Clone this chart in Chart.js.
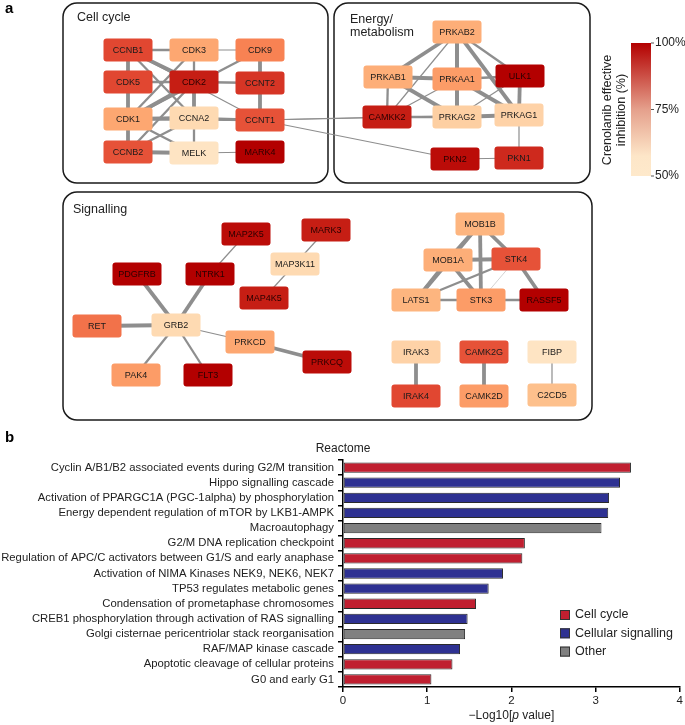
<!DOCTYPE html>
<html>
<head>
<meta charset="utf-8">
<script src="https://cdn.jsdelivr.net/npm/chart.js@4.4.1/dist/chart.umd.min.js"></script>
<style>
  html, body { margin: 0; padding: 0; background: #fff; }
  #wrap { position: relative; width: 685px; height: 725px; }
  canvas { position: absolute; left: 0; top: 0; }
</style>
</head>
<body>
<div id="wrap">
  <canvas id="net" width="685" height="455"></canvas>
  <canvas id="bars" width="685" height="725"></canvas>
</div>
<script>
// ---- panel a : kinase network (inhibition %, estimated from node colour)
const geneNames = ['CCNB1','CDK3','CDK9','CDK5','CDK2','CCNT2','CDK1','CCNA2','CCNT1','CCNB2','MELK','MARK4',
  'PRKAB2','PRKAB1','PRKAA1','ULK1','CAMKK2','PRKAG2','PRKAG1','PKN2','PKN1',
  'MAP2K5','MARK3','PDGFRB','NTRK1','MAP3K11','MAP4K5','RET','GRB2','PRKCD','PRKCQ','PAK4','FLT3',
  'MOB1B','MOB1A','STK4','LATS1','STK3','RASSF5','IRAK3','CAMK2G','FIBP','IRAK4','CAMK2D','C2CD5'];
const inhibition = [88,68,77,88,95,91,68,54,86,86,51,100,
  66,66,71,100,95,57,56,98,93,
  98,95,100,100,54,95,80,54,68,98,71,100,
  64,66,86,64,71,100,56,86,51,88,71,61];
// interactions: [gene, gene, score]
const interactions = [
  ['CCNB1','CDK1',3],['CCNB1','CDK2',3],['CCNB1','CDK3',2],['CCNB1','CCNB2',1],['CCNB1','CCNA2',2],
  ['CDK5','CDK1',2],['CDK5','CDK2',2],['CDK5','CCNB2',1],['CDK2','CCNA2',3],['CDK1','CCNA2',3],
  ['CDK1','CCNB2',3],['CDK1','CDK2',3],['CDK9','CCNT2',3],['CDK9','CCNT1',2],['CCNT2','CCNT1',3],
  ['CDK9','CDK1',2],['CDK2','CCNB2',2],['CCNA2','CCNB2',2],['CCNA2','MELK',2],['CDK1','MELK',2],
  ['CCNB2','MELK',3],['CCNT1','CDK1',2],['CCNT1','CCNA2',2],['CDK3','CDK1',2],['CDK3','CCNA2',2],
  ['CDK2','CCNT2',2],['CDK3','CDK9',1],['CCNB1','CCNT1',1],['MELK','MARK4',1],
  ['CCNT1','CAMKK2',1],['CCNT1','PRKAG1',1],['CCNT1','PKN2',1],
  ['PRKAB2','PRKAB1',3],['PRKAB2','PRKAA1',3],['PRKAB2','PRKAG2',3],['PRKAB2','PRKAG1',3],
  ['PRKAB2','CAMKK2',1],['PRKAB2','ULK1',2],['PRKAB1','PRKAA1',3],['PRKAB1','PRKAG2',3],
  ['PRKAB1','CAMKK2',2],['PRKAA1','ULK1',2],['PRKAA1','PRKAG2',3],['PRKAA1','PRKAG1',3],
  ['PRKAA1','CAMKK2',1],['ULK1','PRKAG1',3],['ULK1','PRKAG2',1],['CAMKK2','PRKAG2',2],
  ['PRKAG2','PRKAG1',3],['CAMKK2','PRKAG1',1],['PRKAG1','PKN1',1],['PKN2','PKN1',1],
  ['GRB2','PDGFRB',3],['GRB2','NTRK1',3],['GRB2','RET',3],['GRB2','PAK4',2],['GRB2','FLT3',2],
  ['GRB2','PRKCD',1],['PRKCD','PRKCQ',3],['NTRK1','MAP2K5',1],['MAP3K11','MARK3',1],['MAP3K11','MAP4K5',1],
  ['MOB1B','MOB1A',3],['MOB1B','STK4',3],['MOB1B','STK3',3],['MOB1B','LATS1',3],['MOB1A','STK4',3],
  ['MOB1A','LATS1',3],['MOB1A','STK3',3],['STK4','LATS1',2],['STK4','RASSF5',3],['STK4','STK3',0],
  ['LATS1','STK3',2],['STK3','RASSF5',2],['IRAK3','IRAK4',3],['CAMK2G','CAMK2D',3],['FIBP','C2CD5',1]
];
const groupTitles = ['Cell cycle', 'Energy/\nmetabolism', 'Signalling'];
const colorbarTicks = ['100%', '75%', '50%'];

// ---- panel b : Reactome enrichment
const pathways = [
  'Cyclin A/B1/B2 associated events during G2/M transition',
  'Hippo signalling cascade',
  'Activation of PPARGC1A (PGC-1alpha) by phosphorylation',
  'Energy dependent regulation of mTOR by LKB1-AMPK',
  'Macroautophagy',
  'G2/M DNA replication checkpoint',
  'Regulation of APC/C activators between G1/S and early anaphase',
  'Activation of NIMA Kinases NEK9, NEK6, NEK7',
  'TP53 regulates metabolic genes',
  'Condensation of prometaphase chromosomes',
  'CREB1 phosphorylation through activation of RAS signalling',
  'Golgi cisternae pericentriolar stack reorganisation',
  'RAF/MAP kinase cascade',
  'Apoptotic cleavage of cellular proteins',
  'G0 and early G1'
];
const negLogP = [3.42, 3.29, 3.16, 3.15, 3.07, 2.16, 2.13, 1.90, 1.73, 1.58, 1.48, 1.45, 1.39, 1.30, 1.05];
const pathwayGroup = ['Cell cycle','Cellular signalling','Cellular signalling','Cellular signalling','Other',
  'Cell cycle','Cell cycle','Cellular signalling','Cellular signalling','Cell cycle',
  'Cellular signalling','Other','Cellular signalling','Cell cycle','Cell cycle'];
const groupNames = ['Cell cycle', 'Cellular signalling', 'Other'];

// ---------------------------------------------------------------- layout / styles
Chart.defaults.font.family = '"Liberation Sans", Arial, sans-serif';
Chart.defaults.color = '#222';

const layout = {
  CCNB1:[128,50], CDK3:[194,50], CDK9:[260,50],
  CDK5:[128,82], CDK2:[194,82], CCNT2:[260,83],
  CDK1:[128,119], CCNA2:[194,118], CCNT1:[260,120],
  CCNB2:[128,152], MELK:[194,153], MARK4:[260,152],
  PRKAB2:[457,32], PRKAB1:[388,77], PRKAA1:[457,79], ULK1:[520,76],
  CAMKK2:[387,117], PRKAG2:[457,117], PRKAG1:[519,115], PKN2:[455,159], PKN1:[519,158],
  MAP2K5:[246,234], MARK3:[326,230], PDGFRB:[137,274], NTRK1:[210,274], MAP3K11:[295,264],
  MAP4K5:[264,298], RET:[97,326], GRB2:[176,325], PRKCD:[250,342], PRKCQ:[327,362],
  PAK4:[136,375], FLT3:[208,375],
  MOB1B:[480,224], MOB1A:[448,260], STK4:[516,259], LATS1:[416,300], STK3:[481,300], RASSF5:[544,300],
  IRAK3:[416,352], CAMK2G:[484,352], FIBP:[552,352], IRAK4:[416,396], CAMK2D:[484,396], C2CD5:[552,395]
};
const groupBoxes = [[63,3,328,183],[334,3,590,183],[63,192,592,420]];
const groupTitlePos = [[77,18],[350,20],[73,210]];

function mix(a, b, t) {
  const pa = [1,3,5].map(i => parseInt(a.substr(i,2),16));
  const pb = [1,3,5].map(i => parseInt(b.substr(i,2),16));
  return 'rgb(' + pa.map((v,i) => Math.round(v + (pb[i]-v)*t)).join(',') + ')';
}
const ramp = ['#fee8c8','#fdbb84','#fc8d59','#e34a33','#b30000'];
function inhibColor(v) {
  let t = Math.max(0, Math.min(1, (v - 50) / 50)) * (ramp.length - 1);
  const i = Math.min(ramp.length - 2, Math.floor(t));
  return mix(ramp[i], ramp[i+1], t - i);
}
const edgeWidth = [0.6, 1.2, 2.3, 3.8];

function rrect(ctx, x, y, w, h, r) {
  ctx.beginPath();
  ctx.moveTo(x + r, y);
  ctx.arcTo(x + w, y, x + w, y + h, r);
  ctx.arcTo(x + w, y + h, x, y + h, r);
  ctx.arcTo(x, y + h, x, y, r);
  ctx.arcTo(x, y, x + w, y, r);
  ctx.closePath();
}

const edgeSets = interactions.map(([a, b, s]) => ({
  data: [{x: layout[a][0], y: layout[a][1]}, {x: layout[b][0], y: layout[b][1]}],
  showLine: true, pointRadius: 0, borderColor: s === 0 ? '#b5b5b5' : '#8e8e8e',
  borderWidth: edgeWidth[s], clip: false
}));
const nodeSet = {
  data: geneNames.map(g => ({x: layout[g][0], y: layout[g][1]})),
  pointRadius: 0, showLine: false
};

const networkPlugin = {
  id: 'network',
  beforeDatasetsDraw(chart) {
    const {ctx, scales: {x, y}} = chart;
    ctx.save();
    ctx.strokeStyle = '#1a1a1a';
    ctx.lineWidth = 1.5;
    groupBoxes.forEach(b => {
      const x0 = x.getPixelForValue(b[0]), y0 = y.getPixelForValue(b[1]);
      const x1 = x.getPixelForValue(b[2]), y1 = y.getPixelForValue(b[3]);
      rrect(ctx, x0, y0, x1 - x0, y1 - y0, 14);
      ctx.stroke();
    });
    ctx.fillStyle = '#222';
    ctx.font = '12.5px "Liberation Sans", Arial, sans-serif';
    ctx.textBaseline = 'middle';
    groupTitles.forEach((t, i) => {
      t.split('\n').forEach((line, k) => {
        ctx.fillText(line, x.getPixelForValue(groupTitlePos[i][0]), y.getPixelForValue(groupTitlePos[i][1]) + k * 13);
      });
    });
    ctx.font = 'bold 15px "Liberation Sans", Arial, sans-serif';
    ctx.fillStyle = '#000';
    ctx.fillText('a', 5, 9);
    ctx.restore();
  },
  afterDatasetsDraw(chart) {
    const {ctx} = chart;
    const meta = chart.getDatasetMeta(chart.data.datasets.length - 1);
    ctx.save();
    ctx.font = '9px "Liberation Sans", Arial, sans-serif';
    ctx.textAlign = 'center';
    ctx.textBaseline = 'middle';
    meta.data.forEach((pt, i) => {
      const w = 49, h = 23;
      rrect(ctx, pt.x - w/2, pt.y - h/2, w, h, 3);
      ctx.fillStyle = inhibColor(inhibition[i]);
      ctx.fill();
      ctx.fillStyle = inhibition[i] > 94 ? '#2a0000' : '#1a1a1a';
      ctx.fillText(geneNames[i], pt.x, pt.y + 0.5);
    });
    // colour bar
    const cx = 631, cy0 = 43, cw = 20, cy1 = 176;
    const g = ctx.createLinearGradient(0, cy0, 0, cy1);
    g.addColorStop(0, '#b30000');
    g.addColorStop(0.5, '#e5a08c');
    g.addColorStop(0.85, '#fde6c8');
    g.addColorStop(1, '#fee9cb');
    ctx.fillStyle = g;
    ctx.fillRect(cx, cy0, cw, cy1 - cy0);
    ctx.strokeStyle = '#555';
    ctx.lineWidth = 1;
    ctx.font = '12px "Liberation Sans", Arial, sans-serif';
    ctx.textAlign = 'left';
    ctx.fillStyle = '#222';
    colorbarTicks.forEach((t, i) => {
      const ty = cy0 + i * (cy1 - cy0) / 2;
      ctx.beginPath(); ctx.moveTo(cx + cw, ty); ctx.lineTo(cx + cw + 3, ty); ctx.stroke();
      ctx.fillText(t, cx + cw + 4, ty);
    });
    ctx.translate(615, 110);
    ctx.rotate(-Math.PI / 2);
    ctx.textAlign = 'center';
    ctx.font = '12.5px "Liberation Sans", Arial, sans-serif';
    ctx.fillText('Crenolanib effective', 0, -7);
    ctx.fillText('inhibition (%)', 0, 7);
    ctx.restore();
  }
};

new Chart(document.getElementById('net'), {
  type: 'scatter',
  data: { datasets: [...edgeSets, nodeSet] },
  options: {
    responsive: false,
    animation: false,
    events: [],
    layout: { padding: 0 },
    scales: {
      x: { type: 'linear', min: 0, max: 685, display: false },
      y: { type: 'linear', min: 0, max: 455, reverse: true, display: false }
    },
    plugins: { legend: { display: false }, tooltip: { enabled: false } }
  },
  plugins: [networkPlugin]
});

// ---------------------------------------------------------------- panel b
const groupColor = { 'Cell cycle': '#c01f30', 'Cellular signalling': '#2e3192', 'Other': '#808080' };

const barDeco = {
  id: 'barDeco',
  afterDraw(chart) {
    const {ctx, chartArea: a} = chart;
    ctx.save();
    ctx.fillStyle = '#000';
    ctx.font = 'bold 15px "Liberation Sans", Arial, sans-serif';
    ctx.textBaseline = 'middle';
    ctx.fillText('b', 5, 438);
    ctx.fillStyle = '#222';
    ctx.font = '12px "Liberation Sans", Arial, sans-serif';
    ctx.textAlign = 'center';
    ctx.fillText('Reactome', a.left, 449);
    // x title with italic p
    const f = '12px "Liberation Sans", Arial, sans-serif';
    const fi = 'italic 12px "Liberation Sans", Arial, sans-serif';
    const parts = [['\u2212Log10[', f], ['p', fi], [' value]', f]];
    let tw = 0;
    parts.forEach(p => { ctx.font = p[1]; tw += ctx.measureText(p[0]).width; });
    let px = (a.left + a.right) / 2 - tw / 2;
    ctx.textAlign = 'left';
    parts.forEach(p => { ctx.font = p[1]; ctx.fillText(p[0], px, 716); px += ctx.measureText(p[0]).width; });
    // legend
    ctx.font = '12.5px "Liberation Sans", Arial, sans-serif';
    groupNames.forEach((n, i) => {
      const ly = 615 + i * 18.3;
      ctx.fillStyle = groupColor[n];
      ctx.fillRect(560, ly - 5, 10, 10);
      ctx.strokeStyle = '#333';
      ctx.lineWidth = 1;
      ctx.strokeRect(560.5, ly - 4.5, 9, 9);
      ctx.fillStyle = '#222';
      ctx.fillText(n, 575, ly);
    });
    ctx.restore();
  }
};

new Chart(document.getElementById('bars'), {
  type: 'bar',
  data: {
    labels: pathways,
    datasets: [{
      data: negLogP,
      backgroundColor: pathwayGroup.map(g => groupColor[g]),
      borderColor: '#2a2a2a',
      borderWidth: 1,
      borderSkipped: false,
      barPercentage: 0.68,
      categoryPercentage: 1
    }]
  },
  options: {
    indexAxis: 'y',
    responsive: false,
    animation: false,
    events: [],
    layout: { padding: { top: 460, right: 4, left: 0, bottom: 0 } },
    scales: {
      x: {
        min: 0, max: 4,
        ticks: { stepSize: 1, color: '#222', font: { size: 11.5 }, padding: 2 },
        grid: { drawOnChartArea: false, tickLength: 5, color: '#000', lineWidth: 1.5 },
        border: { color: '#000', width: 1.5 },
        afterFit(s) { s.height = 38; }
      },
      y: {
        ticks: { color: '#222', font: { size: 11.3 }, padding: 4, autoSkip: false },
        grid: { drawOnChartArea: false, tickLength: 5, color: '#000', lineWidth: 1.5 },
        border: { color: '#000', width: 1.5 },
        afterFit(s) { s.width = 343; }
      }
    },
    plugins: { legend: { display: false }, tooltip: { enabled: false } }
  },
  plugins: [barDeco]
});
</script>
</body>
</html>
